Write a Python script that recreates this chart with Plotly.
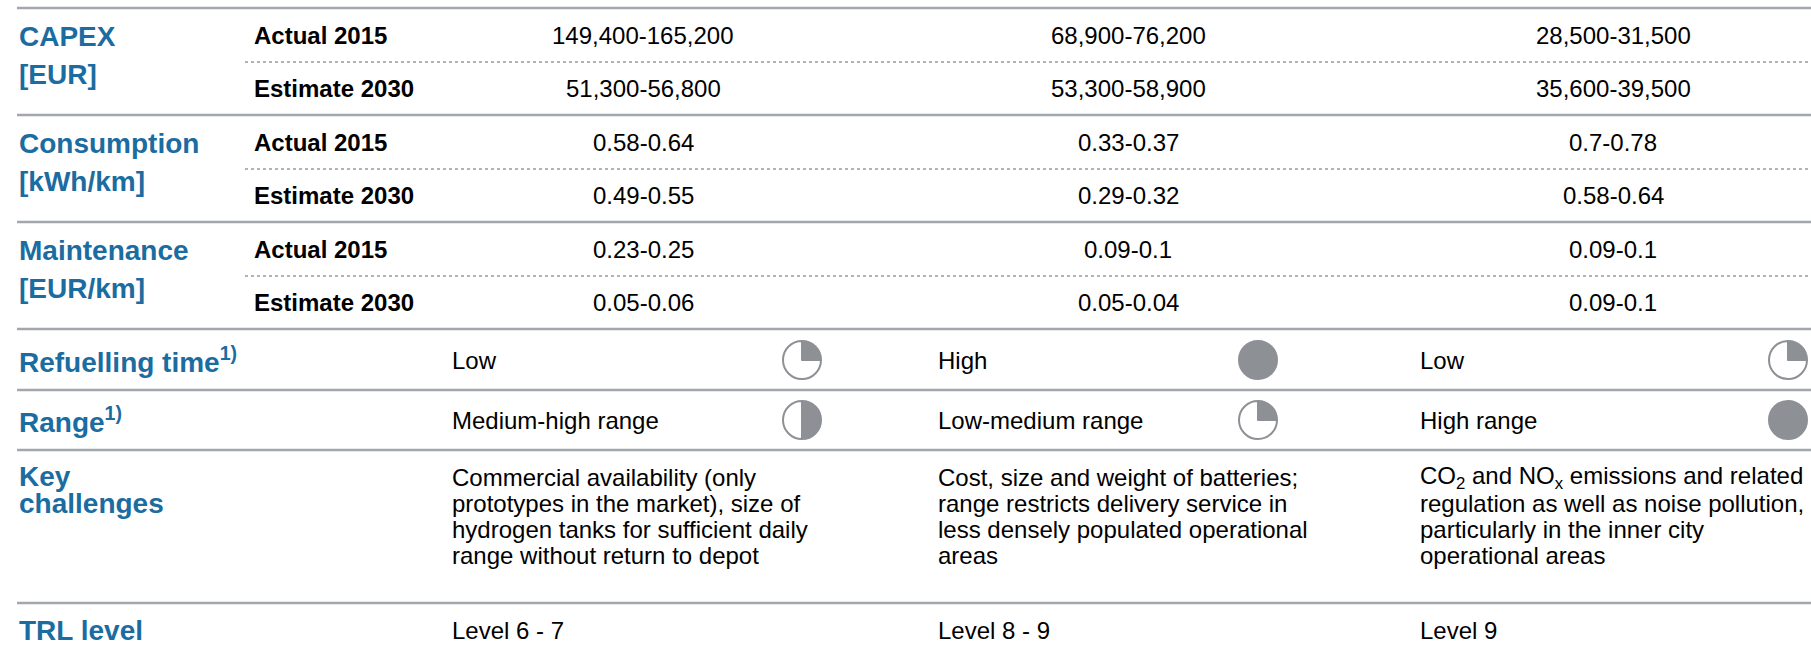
import plotly.graph_objects as go

# ---------------- data ----------------
group_labels = [["CAPEX", "[EUR]"], ["Consumption", "[kWh/km]"], ["Maintenance", "[EUR/km]"]]
sub_labels = ["Actual 2015", "Estimate 2030"]
capex_2015 = ["149,400-165,200", "68,900-76,200", "28,500-31,500"]
capex_2030 = ["51,300-56,800", "53,300-58,900", "35,600-39,500"]
cons_2015 = ["0.58-0.64", "0.33-0.37", "0.7-0.78"]
cons_2030 = ["0.49-0.55", "0.29-0.32", "0.58-0.64"]
maint_2015 = ["0.23-0.25", "0.09-0.1", "0.09-0.1"]
maint_2030 = ["0.05-0.06", "0.05-0.04", "0.09-0.1"]

refuel_title = "Refuelling time<sup>1)</sup>"
refuel_labels = ["Low", "High", "Low"]
refuel_level = [0.25, 1.0, 0.25]

range_title = "Range<sup>1)</sup>"
range_labels = ["Medium-high range", "Low-medium range", "High range"]
range_level = [0.5, 0.25, 1.0]

challenge_title = ["Key", "challenges"]
challenges = [
    ["Commercial availability (only", "prototypes in the market), size of",
     "hydrogen tanks for sufficient daily", "range without return to depot"],
    ["Cost, size and weight of batteries;", "range restricts delivery service in",
     "less densely populated operational", "areas"],
    ["CO<sub>2</sub> and NO<sub>x</sub> emissions and related", "regulation as well as noise pollution,",
     "particularly in the inner city", "operational areas"],
]
trl_title = "TRL level"
trl_labels = ["Level 6 - 7", "Level 8 - 9", "Level 9"]

# ---------------- layout constants ----------------
W, H = 1811, 646
BLUE = "#1b6ca0"
BLACK = "#000000"
GRAY = "#8d9095"
LINE = "#a3a6aa"
FONT = "Liberation Sans, Arial, sans-serif"

x_left = 17
x_sub = 252
col_center = [643, 1128, 1613]
col_left = [450, 936, 1418]
pie_cx = [802, 1258, 1788]
pie_r = 19

fig = go.Figure()
ann = []
shapes = []


def text(x, y, s, size=24, color=BLACK, bold=False, anchor="left"):
    if bold:
        s = "<b>" + s + "</b>"
    ann.append(dict(x=x, y=y, xref="x", yref="y", text=s, showarrow=False,
                    xanchor=anchor, yanchor="middle",
                    font=dict(family=FONT, size=size, color=color)))


def hline(y, x0=x_left, dotted=False):
    shapes.append(dict(type="line", xref="x", yref="y", x0=x0, x1=W, y0=y, y1=y,
                       line=dict(color="#9a9a9a" if dotted else LINE,
                                 width=1.5 if dotted else 2.5,
                                 dash="dot" if dotted else "solid")))


numeric_rows = [(capex_2015, capex_2030), (cons_2015, cons_2030), (maint_2015, maint_2030)]
row_h = 107
top = 8
for i, (g, (a, e)) in enumerate(zip(group_labels, numeric_rows)):
    t = top + i * row_h
    hline(t)
    text(x_left, t + 28, g[0], size=28, color=BLUE, bold=True)
    text(x_left, t + 66, g[1], size=28, color=BLUE, bold=True)
    text(x_sub, t + 27, sub_labels[0], bold=True)
    text(x_sub, t + 80, sub_labels[1], bold=True)
    hline(t + 54, x0=245, dotted=True)
    for c in range(3):
        text(col_center[c], t + 27, a[c], anchor="center")
        text(col_center[c], t + 80, e[c], anchor="center")

y_ref_top = top + 3 * row_h  # 329
y_rng_top = 390
y_key_top = 450
y_trl_top = 603
hline(y_ref_top)
hline(y_rng_top)
hline(y_key_top)
hline(y_trl_top)

y_ref = 360
y_rng = 420
text(x_left, y_ref, refuel_title, size=28, color=BLUE, bold=True)
text(x_left, y_rng, range_title, size=28, color=BLUE, bold=True)
for c in range(3):
    text(col_left[c], y_ref, refuel_labels[c])
    text(col_left[c], y_rng, range_labels[c])


def pie(cx, cy, frac):
    fig.add_trace(go.Pie(
        values=[frac, 1 - frac], sort=False, direction="clockwise", rotation=0,
        marker=dict(colors=[GRAY, "#ffffff"], line=dict(color=GRAY, width=2)),
        textinfo="none", hoverinfo="skip", showlegend=False,
        domain=dict(x=[(cx - pie_r) / W, (cx + pie_r) / W],
                    y=[1 - (cy + pie_r) / H, 1 - (cy - pie_r) / H]),
    ))


for c in range(3):
    pie(pie_cx[c], y_ref, refuel_level[c])
    pie(pie_cx[c], y_rng, range_level[c])

text(x_left, 476, challenge_title[0], size=28, color=BLUE, bold=True)
text(x_left, 503, challenge_title[1], size=28, color=BLUE, bold=True)
for c in range(3):
    for k, ln in enumerate(challenges[c]):
        text(col_left[c], 477 + k * 26, ln)

text(x_left, 630, trl_title, size=28, color=BLUE, bold=True)
for c in range(3):
    text(col_left[c], 630, trl_labels[c])

fig.update_layout(
    width=W, height=H, margin=dict(l=0, r=0, t=0, b=0),
    paper_bgcolor="white", plot_bgcolor="white",
    xaxis=dict(range=[0, W], visible=False, fixedrange=True),
    yaxis=dict(range=[H, 0], visible=False, fixedrange=True),
    annotations=ann, shapes=shapes, showlegend=False,
)
fig.write_html("out.html", config={"displayModeBar": False, "staticPlot": True},
               post_script="document.body.style.margin='0px';document.body.style.overflow='hidden';")
